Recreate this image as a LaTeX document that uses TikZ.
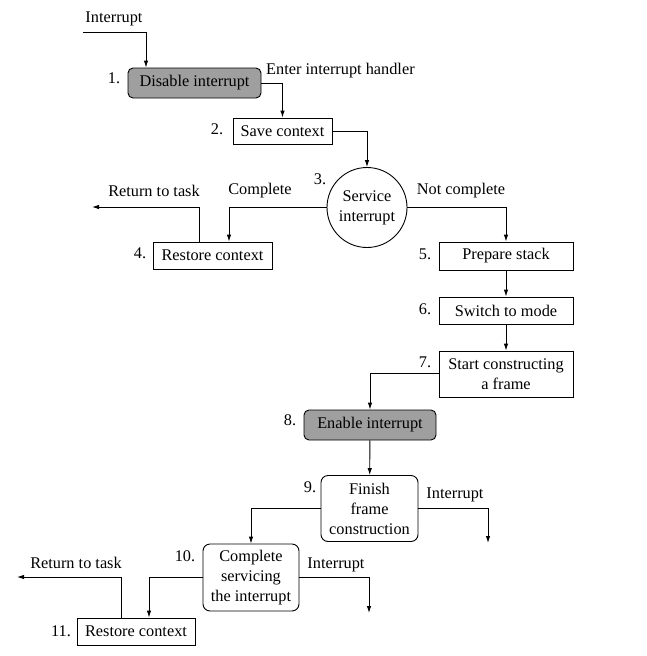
\documentclass[tikz,border=0pt]{standalone}
\usepackage{fontspec}
\setmainfont{Liberation Serif}
\usetikzlibrary{arrows.meta}
\begin{document}
\begin{tikzpicture}[x=1pt,y=-1pt,
  font=\fontsize{16.3}{20}\selectfont,
  every node/.style={inner sep=0pt},
  box/.style={draw,line width=0.9pt,align=center},
  gbox/.style={box,fill=gray!75,rounded corners=5pt},
  rbox/.style={box,rounded corners=7pt},
  lbl/.style={anchor=center},
  arr/.style={line width=0.9pt,-{Latex[length=7pt,width=4.5pt]}},
  ln/.style={line width=0.9pt}]
\useasboundingbox (0,0) rectangle (646,656);
% nodes
\node[gbox,minimum width=133pt,minimum height=30pt] (b1) at (194.5,83) {Disable interrupt};
\node[box,minimum width=99pt,minimum height=26pt] (b2) at (282.5,131) {Save context};
\node[circle,draw,line width=0.9pt,minimum size=80pt,align=center] (b3) at (367,207.5) {Service\\interrupt};
\node[box,minimum width=119pt,minimum height=27pt] (b4) at (212.5,255.5) {Restore context};
\node[box,minimum width=134pt,minimum height=28pt] (b5) at (506,256) {Prepare stack};
\node[box,minimum width=134pt,minimum height=27pt] (b6) at (506,310.5) {Switch to mode};
\node[box,minimum width=134pt,minimum height=46pt] (b7) at (506,374) {Start constructing\\a frame};
\node[gbox,minimum width=132pt,minimum height=30pt] (b8) at (370,425) {Enable interrupt};
\node[rbox,minimum width=97pt,minimum height=66pt] (b9) at (369.5,508.5) {Finish\\frame\\construction};
\node[rbox,minimum width=96pt,minimum height=67pt] (b10) at (251,577.5) {Complete\\servicing\\the interrupt};
\node[box,minimum width=118pt,minimum height=27pt] (b11) at (136,631.5) {Restore context};
% numbers
\node[lbl] (n1) at (114,78) {1.};
\node[lbl] (n2) at (217,129) {2.};
\node[lbl] (n3) at (320,179) {3.};
\node[lbl] (n4) at (140,253) {4.};
\node[lbl] (n5) at (425,254) {5.};
\node[lbl] (n6) at (425,309) {6.};
\node[lbl] (n7) at (425,362) {7.};
\node[lbl] (n8) at (290,420) {8.};
\node[lbl] (n9) at (310,487) {9.};
\node[lbl] (n10) at (185,556) {10.};
\node[lbl] (n11) at (61,631) {11.};
% labels
\node[lbl] (tIn) at (114,19) {Interrupt};
\node[anchor=west] (tEnter) at (266,71) {Enter interrupt handler};
\node[lbl] (tRet1) at (154,191) {Return to task};
\node[lbl] (tComp) at (260,191) {Complete};
\node[lbl] (tNot) at (461,191) {Not complete};
\node[lbl] (tInt9) at (455,495) {Interrupt};
\node[lbl] (tInt10) at (336,565) {Interrupt};
\node[lbl] (tRet2) at (76,563) {Return to task};
% free ends
\coordinate (c0) at (83,32);
\coordinate (cRet1) at (92,207);
\coordinate (cI9) at (488,543);
\coordinate (cI10) at (369,613);
\coordinate (cRet2) at (17,577);
% connectors
\draw[arr] (c0) -| (b1.north west -| 146,0);
\draw[arr] (b1.east) -| (b2.north);
\draw[arr] (b2.east) -| (b3.north);
\draw[arr] (b3.west) -| (b4.north -| 229,0);
\draw[arr] (b4.north -| 199,0) |- (cRet1);
\draw[arr] (b3.east) -| (b5.north);
\draw[arr] (b5) -- (b6);
\draw[arr] (b6) -- (b7);
\draw[arr] ([yshift=1pt]b7.west) -| (b8.north);
\draw[arr] (b8) -- (b9);
\draw[arr] (b9.west) -| (b10.north);
\draw[arr] (b9.east) -| (cI9);
\draw[arr] (b10.west) -| (b11.north -| 149,0);
\draw[arr] (b10.east) -| (cI10);
\draw[arr] (b11.north -| 121,0) |- (cRet2);
\end{tikzpicture}
\end{document}
